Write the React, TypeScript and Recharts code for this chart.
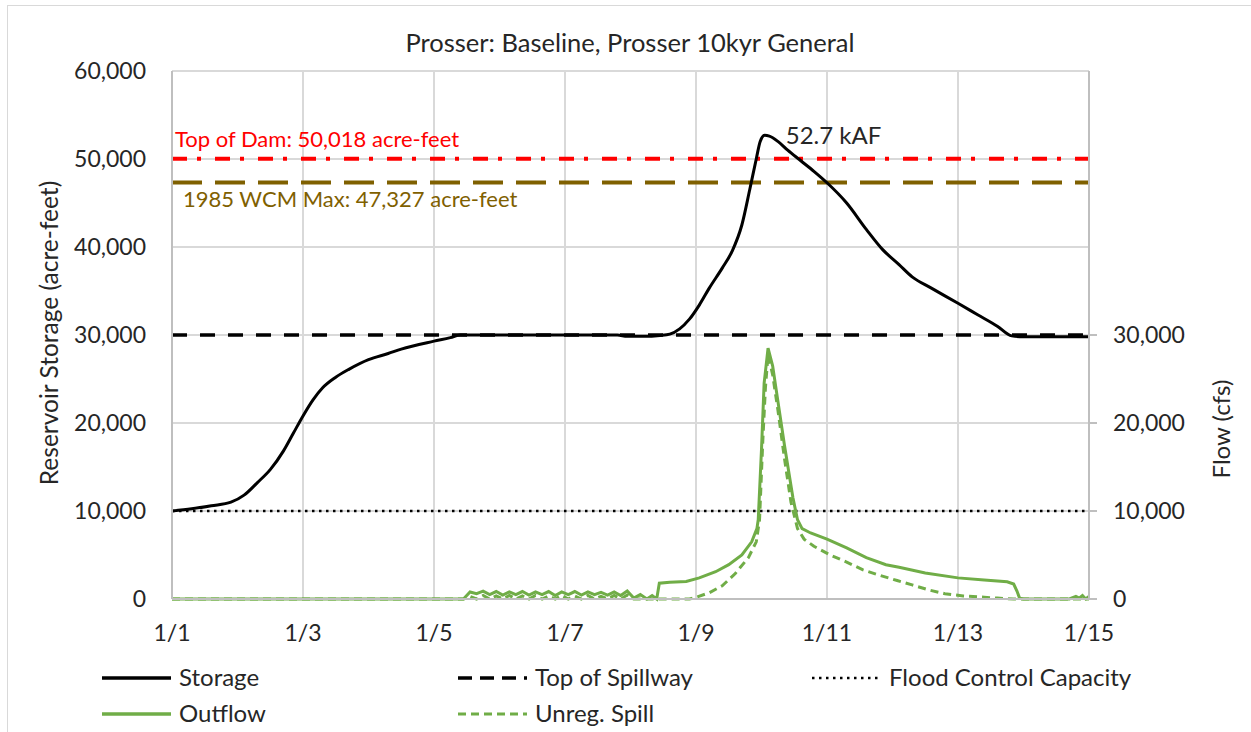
import React from 'react';
import { LineChart, Line, XAxis, YAxis, CartesianGrid, ReferenceLine, ReferenceDot } from 'recharts';

// x values are days since 1/1
const dayTicks = [0, 2, 4, 6, 8, 10, 12, 14];
const storageTicks = [0, 10000, 20000, 30000, 40000, 50000, 60000];
const flowTicks = [0, 10000, 20000, 30000];

const storageDays = [
  0, 0.3, 0.6, 0.9, 1.1, 1.3, 1.5, 1.7, 1.85, 2.0, 2.15, 2.3, 2.5, 2.7, 3.0, 3.3, 3.5, 4.0, 4.25, 4.4,
  6.8, 6.95, 7.2, 7.45, 7.6, 7.75, 7.9, 8.05, 8.2, 8.4, 8.55, 8.7, 8.82, 8.92, 8.98, 9.05, 9.12, 9.25,
  9.4, 9.6, 9.8, 10.0, 10.3, 10.6, 10.85, 11.1, 11.3, 11.6, 12.0, 12.3, 12.6, 12.82, 13.0, 13.5, 14,
];
const storageAF = [
  10000, 10250, 10600, 11000, 11800, 13200, 14700, 16800, 18800, 20800, 22600, 24000, 25200, 26100, 27200, 27900, 28400, 29300, 29700, 30000,
  30000, 29850, 29850, 29950, 30100, 30700, 31800, 33400, 35300, 37600, 39500, 42500, 46500, 50000, 52000, 52700, 52600, 52000,
  51000, 49800, 48600, 47300, 45000, 42000, 39700, 38000, 36600, 35300, 33600, 32300, 31000, 29900, 29800, 29800, 29800,
];

const outflowDays = [
  0, 4.45, 4.55, 4.65, 4.75, 4.85, 4.95, 5.05, 5.15, 5.25, 5.35, 5.45, 5.55, 5.65, 5.75, 5.85, 5.95, 6.05,
  6.15, 6.25, 6.35, 6.45, 6.55, 6.65, 6.75, 6.85, 6.95, 7.05, 7.15, 7.25, 7.33, 7.4, 7.44, 7.6, 7.85, 8.05,
  8.3, 8.5, 8.7, 8.85, 8.93, 8.95, 9.0, 9.04, 9.1, 9.17, 9.24, 9.35, 9.48, 9.55, 9.62, 9.75, 10.0, 10.3,
  10.6, 10.9, 11.1, 11.5, 12.0, 12.4, 12.75, 12.85, 12.9, 12.94, 13.0, 13.7, 13.8, 13.85, 13.9, 13.95, 14,
];
const outflowCfs = [
  0, 0, 800, 600, 900, 500, 850, 450, 800, 500, 850, 450, 800, 500, 850, 400, 800, 500,
  850, 450, 800, 500, 750, 450, 800, 400, 900, 100, 500, 0, 400, 0, 1800, 1900, 2000, 2400,
  3100, 3900, 5000, 6500, 8000, 9000, 17000, 24500, 28500, 26500, 23000, 17500, 11500, 9000, 8000, 7500, 6800, 5800,
  4700, 3900, 3600, 2950, 2400, 2150, 1950, 1700, 900, 100, 0, 0, 300, 100, 400, 0, 300,
];

const spillDays = [
  0, 4.45, 4.55, 4.65, 4.75, 4.85, 4.95, 5.05, 5.15, 5.25, 5.35, 5.45, 5.55, 5.65, 5.75, 5.85, 5.95, 6.05,
  6.15, 6.25, 6.35, 6.45, 6.55, 6.65, 6.75, 6.85, 6.95, 7.05, 7.15, 7.9, 8.0, 8.2, 8.4, 8.6, 8.8, 8.92,
  8.97, 9.02, 9.06, 9.1, 9.17, 9.25, 9.35, 9.45, 9.55, 9.65, 9.8, 10.05, 10.3, 10.55, 10.8, 11.07, 11.3,
  11.57, 11.8, 12.08, 12.4, 12.6, 12.85, 14,
];
const spillCfs = [
  0, 0, 300, 0, 400, 0, 350, 0, 400, 0, 350, 0, 400, 0, 350, 0, 400, 0,
  350, 0, 400, 0, 300, 0, 400, 0, 450, 0, 0, 0, 200, 700, 1500, 2900, 4700, 6500,
  9000, 18000, 24000, 27800, 25500, 21500, 16000, 11000, 8000, 6800, 6000, 5000, 4200, 3300, 2700, 2100, 1600,
  1000, 600, 350, 200, 100, 0, 0,
];

const TOP_OF_DAM = 50018;
const WCM_MAX = 47327;
const TOP_OF_SPILLWAY = 30000;
const FLOOD_CONTROL = 10000;

const toSeries = (days: number[], vals: number[]) => days.map((t, i) => ({ t, v: vals[i] }));
const flat = (v: number) => [{ t: dayTicks[0], v }, { t: dayTicks[dayTicks.length - 1], v }];

const storage = toSeries(storageDays, storageAF);
const outflow = toSeries(outflowDays, outflowCfs);
const spill = toSeries(spillDays, spillCfs);
const peakIdx = storageAF.indexOf(Math.max(...storageAF));

const fmt = (v: number) => v.toLocaleString('en-US');
const FONT = 'Lato, "Open Sans", sans-serif';
const TEXT = '#262626';
const GREEN = '#70ad47';
const tickStyle = { fontSize: 23, fill: TEXT, fontFamily: FONT };

const legendItems = [
  { name: 'Storage', color: '#000', dash: undefined, width: 3.5, x: 102, y: 678 },
  { name: 'Top of Spillway', color: '#000', dash: '14 8', width: 3.5, x: 458, y: 678 },
  { name: 'Flood Control Capacity', color: '#000', dash: '2.5 4.5', width: 2.5, x: 812, y: 678 },
  { name: 'Outflow', color: GREEN, dash: undefined, width: 3.5, x: 102, y: 714 },
  { name: 'Unreg. Spill', color: GREEN, dash: '8 5', width: 3, x: 458, y: 714 },
];

export default function App() {
  return (
    <div style={{ position: 'relative', width: 1251, height: 732, background: '#fff', overflow: 'hidden' }}>
      <style>{'body{margin:0}'}</style>
      <div style={{ position: 'absolute', left: 7, top: 5, width: 1300, height: 800, border: '1.5px solid #d9d9d9' }} />
      <LineChart width={1251} height={732} margin={{ top: 71, right: 62, bottom: 93, left: 8 }}
        style={{ position: 'absolute', left: 0, top: 0 }}>
        <CartesianGrid yAxisId="left" stroke="#d9d9d9" strokeWidth={2} />
        <XAxis dataKey="t" type="number" domain={[0, 14]} ticks={dayTicks} height={40}
          tickFormatter={(t) => `1/${t + 1}`} tick={tickStyle} tickSize={0} tickMargin={26}
          axisLine={{ stroke: '#bfbfbf', strokeWidth: 2 }} allowDataOverflow />
        <YAxis yAxisId="left" domain={[0, 60000]} ticks={storageTicks} width={164} tickFormatter={fmt}
          tick={tickStyle} tickSize={0} tickMargin={26} axisLine={{ stroke: '#bfbfbf', strokeWidth: 2 }}
          label={(p: any) => (
            <text x={p.viewBox.x + 50} y={p.viewBox.y + p.viewBox.height / 2 - 2} transform={`rotate(-90 ${p.viewBox.x + 50} ${p.viewBox.y + p.viewBox.height / 2 - 2})`}
              textAnchor="middle" fontSize={24.5} fill={TEXT} fontFamily={FONT}>Reservoir Storage (acre-feet)</text>
          )} />
        <YAxis yAxisId="right" orientation="right" domain={[0, 60000]} ticks={flowTicks} width={100}
          tickFormatter={fmt} tick={tickStyle} tickSize={8} tickMargin={16}
          tickLine={{ stroke: '#bfbfbf', strokeWidth: 2 }} axisLine={{ stroke: '#bfbfbf', strokeWidth: 2 }}
          label={(p: any) => (
            <text x={p.viewBox.x + 141} y={p.viewBox.y + p.viewBox.height / 2 + 94} transform={`rotate(-90 ${p.viewBox.x + 141} ${p.viewBox.y + p.viewBox.height / 2 + 94})`}
              textAnchor="middle" fontSize={24} fill={TEXT} fontFamily={FONT}>Flow (cfs)</text>
          )} />

        <ReferenceLine yAxisId="left" y={TOP_OF_DAM} stroke="#ff0000" strokeWidth={4} strokeDasharray="15 10 4 14"
          label={(p: any) => (
            <text x={p.viewBox.x + 3} y={p.viewBox.y - 12} fontSize={22} fill="#ff0000" fontFamily={FONT}>
              {`Top of Dam: ${fmt(TOP_OF_DAM)} acre-feet`}
            </text>
          )} />
        <ReferenceLine yAxisId="left" y={WCM_MAX} stroke="#7f6000" strokeWidth={4} strokeDasharray="30 13"
          label={(p: any) => (
            <text x={p.viewBox.x + 11} y={p.viewBox.y + 24} fontSize={22} fill="#7f6000" fontFamily={FONT}>
              {`1985 WCM Max: ${fmt(WCM_MAX)} acre-feet`}
            </text>
          )} />

        <Line yAxisId="left" data={flat(TOP_OF_SPILLWAY)} dataKey="v" stroke="#000" strokeWidth={3.5}
          strokeDasharray="15 13" dot={false} activeDot={false} isAnimationActive={false} />
        <Line yAxisId="left" data={flat(FLOOD_CONTROL)} dataKey="v" stroke="#000" strokeWidth={2.5}
          strokeDasharray="2.5 4.5" dot={false} activeDot={false} isAnimationActive={false} />
        <Line yAxisId="right" data={spill} dataKey="v" type="linear" stroke={GREEN} strokeWidth={3}
          strokeDasharray="8 5" dot={false} activeDot={false} isAnimationActive={false} />
        <Line yAxisId="right" data={outflow} dataKey="v" type="linear" stroke={GREEN} strokeWidth={3}
          dot={false} activeDot={false} isAnimationActive={false} />
        <Line yAxisId="left" data={storage} dataKey="v" type="monotone" stroke="#000" strokeWidth={3}
          dot={false} activeDot={false} isAnimationActive={false} />

        <ReferenceDot yAxisId="left" x={storageDays[peakIdx]} y={storageAF[peakIdx]} r={0} fill="none" stroke="none"
          label={(p: any) => (
            <text x={p.viewBox.x + 21} y={p.viewBox.y + 9} fontSize={24} fill={TEXT} fontFamily={FONT}>
              {`${(storageAF[peakIdx] / 1000).toFixed(1)} kAF`}
            </text>
          )} />
      </LineChart>

      <svg width={1251} height={732} style={{ position: 'absolute', left: 0, top: 0, pointerEvents: 'none' }}>
        <text x={630} y={52} textAnchor="middle" fontSize={25.5} fill={TEXT} fontFamily={FONT}>
          Prosser: Baseline, Prosser 10kyr General
        </text>
        {legendItems.map((it) => (
          <g key={it.name}>
            <line x1={it.x} x2={it.x + 69} y1={it.y} y2={it.y} stroke={it.color} strokeWidth={it.width} strokeDasharray={it.dash} />
            <text x={it.x + 77} y={it.y + 8} fontSize={24} fill={TEXT} fontFamily={FONT}>{it.name}</text>
          </g>
        ))}
      </svg>
    </div>
  );
}
